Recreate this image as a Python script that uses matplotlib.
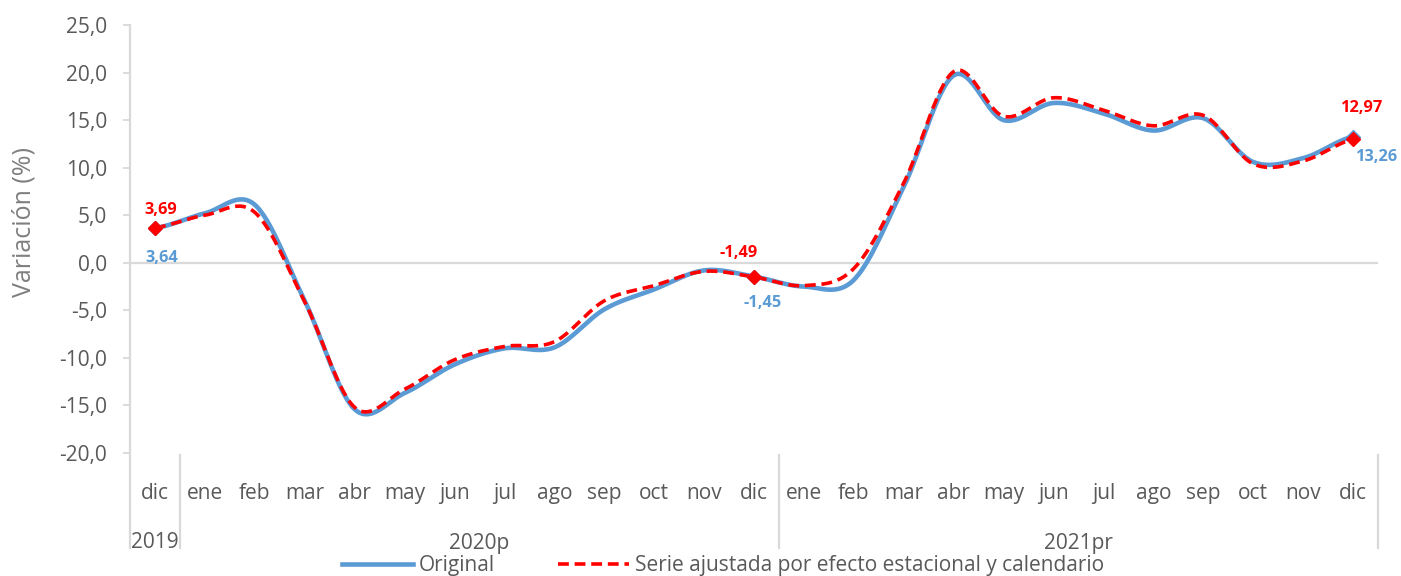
import numpy as np
import matplotlib
matplotlib.use("Agg")
import matplotlib.pyplot as plt
from matplotlib.lines import Line2D

# ---------------- data ----------------
months = ["dic", "ene", "feb", "mar", "abr", "may", "jun", "jul", "ago", "sep", "oct", "nov", "dic",
          "ene", "feb", "mar", "abr", "may", "jun", "jul", "ago", "sep", "oct", "nov", "dic"]
years = ["2019", "2020p", "2021pr"]
original = [3.64, 5.2, 6.1, -4.0, -15.4, -13.7, -10.7, -9.0, -8.9, -4.9, -2.8, -0.8, -1.45,
            -2.5, -1.8, 8.0, 19.7, 15.0, 16.8, 15.7, 13.9, 15.2, 10.6, 11.0, 13.26]
ajustada = [3.69, 5.0, 5.3, -4.1, -15.2, -13.3, -10.2, -8.8, -8.3, -4.0, -2.4, -0.9, -1.49,
            -2.4, -0.6, 8.4, 20.1, 15.4, 17.35, 16.05, 14.4, 15.5, 10.4, 10.7, 12.97]
label_idx = [0, 12, 24]
yticks = [-20, -15, -10, -5, 0, 5, 10, 15, 20, 25]

BLUE = "#5B9BD5"
RED = "#FF0000"
GRAY = "#595959"
LINE = "#D9D9D9"

plt.rcParams["font.family"] = ["Open Sans", "DejaVu Sans"]


def smooth(y, n=30):
    """Excel-like smoothed line: cubic Bezier through every point."""
    y = np.asarray(y, float)
    m = len(y)
    xs, ys = [], []
    for i in range(m - 1):
        p0 = y[i - 1] if i > 0 else y[i]
        p1, p2 = y[i], y[i + 1]
        p3 = y[i + 2] if i + 2 < m else y[i + 1]
        c1 = p1 + (p2 - p0) / 6.0
        c2 = p2 - (p3 - p1) / 6.0
        t = np.linspace(0, 1, n, endpoint=(i == m - 2))
        b = (1 - t) ** 3 * p1 + 3 * (1 - t) ** 2 * t * c1 + 3 * (1 - t) * t ** 2 * c2 + t ** 3 * p2
        xs.append(i + t)
        ys.append(b)
    return np.concatenate(xs), np.concatenate(ys)


fig = plt.figure(figsize=(14.01, 5.76), dpi=100)
W, H = 1401, 576
left, right, top, bottom = 130, 1378, 25, 453
ax = fig.add_axes([left / W, 1 - bottom / H, (right - left) / W, (bottom - top) / H])

x = np.arange(len(months))
ax.set_xlim(-0.5, len(months) - 0.5)
ax.set_ylim(-20, 25)

# zero line
ax.axhline(0, color=LINE, lw=1.6, zorder=1)

xs, ys = smooth(original)
ax.plot(xs, ys, color=BLUE, lw=3.3, solid_capstyle="round", zorder=3)
xs2, ys2 = smooth(ajustada)
ax.plot(xs2, ys2, color=RED, lw=2.6, dashes=(3, 1.6), zorder=4)

ax.plot(label_idx, [original[i] for i in label_idx], ls="none", marker="D", ms=7.5,
        color=BLUE, zorder=5)
ax.plot(label_idx, [ajustada[i] for i in label_idx], ls="none", marker="D", ms=7.5,
        color=RED, zorder=6)

# data labels (offsets in points)
red_off = {0: (4, 13), 12: (-11, 17.5), 24: (6.5, 22.5)}
blue_off = {0: (5, -21.5), 12: (6.5, -19), 24: (17.3, -14.3)}


def fmt(v):
    return f"{v:.2f}".replace(".", ",")


for i in label_idx:
    ax.annotate(fmt(ajustada[i]), (x[i], ajustada[i]), xytext=red_off[i], textcoords="offset points",
                ha="center", va="center", color=RED, fontsize=11.8, fontweight="bold",
                annotation_clip=False, zorder=7)
    ax.annotate(fmt(original[i]), (x[i], original[i]), xytext=blue_off[i], textcoords="offset points",
                ha="center", va="center", color=BLUE, fontsize=11.8, fontweight="bold",
                annotation_clip=False, zorder=7)

# spines
for s in ["top", "right", "bottom", "left"]:
    ax.spines[s].set_visible(False)

# y axis
ax.set_yticks(yticks)
ax.set_yticklabels([f"{v:.1f}".replace(".", ",") for v in yticks])
ax.tick_params(axis="y", direction="out", length=5, width=1.3, color=LINE, pad=11.5,
               labelsize=15, labelcolor=GRAY)

# x axis (month labels)
ax.set_xticks(x)
ax.set_xticklabels(months)
ax.tick_params(axis="x", length=0, pad=21.5, labelsize=15, labelcolor=GRAY)

# vertical axis line extended into category area, and group separators
ybot = (bottom - 548) / (bottom - top)
ysep_top = (bottom - 455) / (bottom - top)
tr = ax.get_xaxis_transform()
ax.plot([-0.5, -0.5], [1, ybot], transform=tr, color=LINE, lw=1.6, clip_on=False, zorder=2)
for sx in [0.5, 12.5, len(months) - 0.5]:
    ax.plot([sx, sx], [ysep_top, ybot], transform=tr, color=LINE, lw=1.6, clip_on=False, zorder=2)

# year labels
year_pos = [0, 6.5, 18.5]
yy = (bottom - 543) / (bottom - top)
for xp, lab in zip(year_pos, years):
    ax.text(xp, yy, lab, transform=tr, ha="center", va="center", fontsize=15, color=GRAY)

# y label
fig.text(24 / W, 1 - 222 / H, "Variación (%)", rotation=90, ha="center", va="center",
         fontsize=18, color="#7F7F7F")

# legend
handles = [Line2D([], [], color=BLUE, lw=3.3),
           Line2D([], [], color=RED, lw=2.6, dashes=(3, 1.6))]
fig.legend(handles, ["Original", "Serie ajustada por efecto estacional y calendario"],
           loc="center", bbox_to_anchor=(723 / W, 1 - 566 / H), ncol=2, frameon=False,
           fontsize=15, labelcolor=GRAY, handlelength=3.4, handletextpad=0.3,
           columnspacing=3.0, borderpad=0, borderaxespad=0)

fig.savefig("out.png", dpi=100)
